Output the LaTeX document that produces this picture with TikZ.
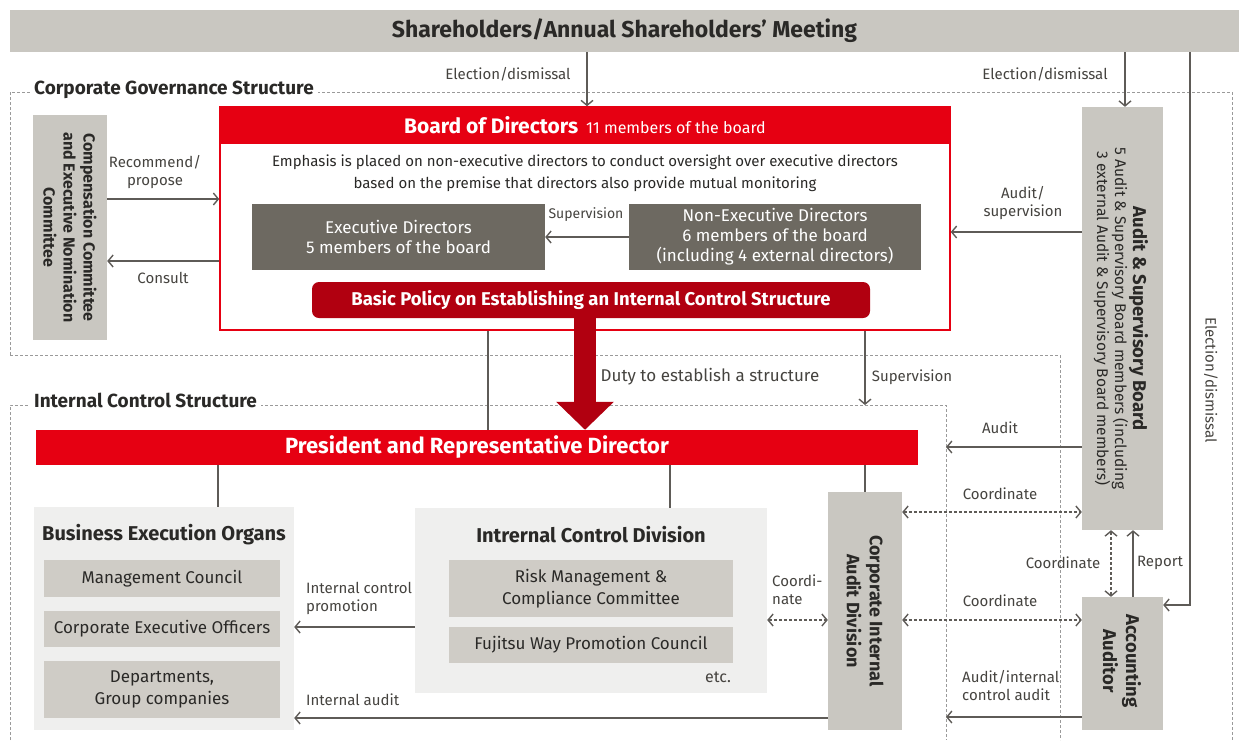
\documentclass[tikz,border=0pt]{standalone}
\usepackage{fontspec}
\setmainfont{Fira Sans}
\usetikzlibrary{arrows.meta,calc}
\definecolor{fjred}{HTML}{E60012}
\definecolor{fjdred}{HTML}{B10010}
\definecolor{barc}{HTML}{C9C7C1}
\definecolor{dgray}{HTML}{6D6961}
\definecolor{lgray}{HTML}{EFEFEE}
\definecolor{mgray}{HTML}{CFCCC6}
\definecolor{lnc}{HTML}{5E5B57}
\definecolor{txt}{HTML}{45433F}
\definecolor{ttl}{HTML}{2A2927}
\definecolor{dsh}{HTML}{9A9A9A}
\begin{document}
\begin{tikzpicture}[x=1pt,y=-1pt,
  lbl/.style={font=\fontsize{15}{18}\selectfont, text=txt, inner sep=0pt, align=center},
  slbl/.style={font=\fontsize{14}{17}\selectfont, text=txt, inner sep=0pt, align=center},
  arr/.style={draw=lnc, line width=1.6pt, -{Straight Barb[length=5pt,width=12pt,line width=1.4pt]}},
  darr/.style={draw=lnc, line width=1.4pt, dash pattern=on 3pt off 2pt,
     {Straight Barb[length=5pt,width=12pt,line width=1.4pt]}-{Straight Barb[length=5pt,width=12pt,line width=1.4pt]}},
  ln/.style={draw=lnc, line width=1.6pt},
  region/.style={draw=dsh, line width=0.8pt, dash pattern=on 3pt off 2pt},
  rtitle/.style={fill=white, inner xsep=4pt, inner ysep=2pt, font=\fontsize{19}{22}\selectfont\bfseries, text=ttl},
  gbox/.style={fill=barc, inner sep=0pt},
  dbox/.style={fill=dgray, inner sep=0pt, text=white, align=center, font=\fontsize{17}{20}\selectfont},
  lbox/.style={fill=lgray, inner sep=0pt},
  mbox/.style={fill=mgray, inner sep=0pt, text=ttl, align=center, font=\fontsize{17}{22}\selectfont, minimum width=236},
  btitle/.style={font=\fontsize{20}{24}\selectfont\bfseries, text=ttl, inner sep=0pt},
  vtext/.style={rotate=-90, align=center, text=ttl, inner sep=0pt}
]
\useasboundingbox (0,0) rectangle (1239,740);

% dashed regions
\draw[region] (10,355) -- (10,92) -- (1232,92) -- (1232,740);
\draw[region] (10,355) -- (1060,355) -- (1060,740);
\draw[region] (10,740) -- (10,405) -- (946,405) -- (946,740);
\node[rtitle, anchor=west] (cgs) at (30,90) {Corporate Governance Structure};
\node[rtitle, anchor=west] (ics) at (30,400) {Internal Control Structure};
\coordinate (icsup) at (865,405);
\coordinate (icaud) at (946,447);
\coordinate (icacc) at (946,717);

% top bar
\node[gbox, minimum width=1229, minimum height=42, font=\fontsize{23}{27}\selectfont\bfseries, text=ttl] (top) at (624.5,31) {Shareholders/Annual Shareholders’ Meeting};

% committee
\node[gbox, minimum width=74, minimum height=225] (comp) at (70,227.5) {};
\node[vtext, font=\fontsize{16}{20}\selectfont\bfseries] at (comp.center) {Compensation Committee\\and Executive Nomination\\Committee};

% board
\node[draw=fjred, line width=1.5pt, minimum width=730, minimum height=223, inner sep=0pt] (board) at (585,218.5) {};
\node[fill=fjred, minimum width=730, minimum height=38, inner sep=0pt, anchor=north, text=white] (boardhead) at (board.north)
  {{\fontsize{21}{24}\selectfont\bfseries Board of Directors}\hspace{8pt}{\fontsize{16}{19}\selectfont 11 members of the board}};
\node[lbl, font=\fontsize{15}{22}\selectfont, text=ttl] (emph) at (585,173) {Emphasis is placed on non-executive directors to conduct oversight over executive directors\\based on the premise that directors also provide mutual monitoring};
\node[dbox, minimum width=293, minimum height=66] (exec) at (398.5,237) {Executive Directors\\5 members of the board};
\node[dbox, minimum width=292, minimum height=66] (nonexec) at (775,237) {Non-Executive Directors\\6 members of the board\\(including 4 external directors)};
\node[fill=fjdred, rounded corners=7pt, minimum width=558, minimum height=36, inner sep=0pt, text=white, font=\fontsize{18.5}{22}\selectfont\bfseries] (policy) at (591,300) {Basic Policy on Establishing an Internal Control Structure};

% audit & supervisory board
\node[gbox, minimum width=81, minimum height=423] (audit) at (1122.5,318.5) {};
\node[vtext, font=\fontsize{15.5}{18}\selectfont] at (1121,318.5) {{\fontsize{18.5}{22}\selectfont\bfseries Audit \& Supervisory Board}\\5 Audit \& Supervisory Board members (including\\3 external Audit \& Supervisory Board members)};

% president
\node[fill=fjred, minimum width=882, minimum height=35, inner sep=0pt, text=white, font=\fontsize{22}{26}\selectfont\bfseries] (pres) at (477,447.5) {President and Representative Director};

% business execution organs
\node[lbox, minimum width=260, minimum height=223] (beo) at (164,618.5) {};
\node[btitle] (beot) at (164,535) {Business Execution Organs};
\node[mbox, minimum height=37] (mc) at (162,578.5) {Management Council};
\node[mbox, minimum height=36] (ceo) at (162,629) {Corporate Executive Officers};
\node[mbox, minimum height=57] (dept) at (162,689.5) {Departments,\\Group companies};

% internal control division
\node[lbox, minimum width=352, minimum height=185] (icd) at (591,600.5) {};
\node[btitle] (icdt) at (591,535) {Intrernal Control Division};
\node[mbox, minimum width=284, minimum height=57] (risk) at (591,588.5) {Risk Management \&\\Compliance Committee};
\node[mbox, minimum width=284, minimum height=36] (fuji) at (591,645) {Fujitsu Way Promotion Council};
\node[lbl, font=\fontsize{16}{19}\selectfont] (etc) at (718,677) {etc.};

% corporate internal audit division
\node[gbox, minimum width=74, minimum height=238] (ciad) at (865,611) {};
\node[vtext, font=\fontsize{18}{23}\selectfont\bfseries] at (ciad.center) {Corporate Internal\\Audit Division};

% accounting auditor
\node[gbox, minimum width=81, minimum height=133] (acc) at (1122.5,663.5) {};
\node[vtext, font=\fontsize{18.5}{23}\selectfont\bfseries] at (1122,661) {Accounting\\Auditor};

% connectors
\draw[arr] (top.south -| 587,0) -- (board.north -| 587,0);
\node[lbl] at (508,74) {Election/dismissal};
\draw[arr] (top.south -| 1125,0) -- (audit.north -| 1125,0);
\node[lbl] at (1045,74) {Election/dismissal};
\draw[arr] (top.south -| 1190,0) |- (acc.east |- 0,605);
\node[lbl, rotate=-90] at (1211,380) {Election/dismissal};

\draw[arr] (comp.east |- 0,199) -- (board.west |- 0,199);
\node[lbl] at (155,172) {Recommend/\\propose};
\draw[arr] (board.west |- 0,261) -- (comp.east |- 0,261);
\node[lbl] at (163,278) {Consult};

\draw[arr] (nonexec.west) -- (exec.east);
\node[slbl] at (586,215) {Supervision};

\draw[arr] (audit.west |- 0,232) -- (board.east |- 0,232);
\node[lbl] at (1023,203) {Audit/\\supervision};

\draw[fjdred, line width=22pt, -{Triangle[length=28pt,width=56pt]}] (policy.south -| 585,0) -- (pres.north -| 585,0);
\node[lbl, font=\fontsize{17}{20}\selectfont] at (710,377) {Duty to establish a structure};

\draw[ln] (board.south -| 488,0) -- (pres.north -| 488,0);
\draw[arr] (board.south -| 865,0) -- (icsup);
\node[lbl] at (912,377) {Supervision};

\draw[arr] (audit.west |- icaud) -- (icaud);
\node[lbl] at (1000,428) {Audit};

\draw[ln] (pres.south -| 218,0) -- (beo.north -| 218,0);
\draw[ln] (pres.south -| 670,0) -- (icd.north -| 670,0);
\draw[ln] (pres.south -| ciad.north) -- (ciad.north);

\draw[arr] (icd.west |- 0,627) -- (beo.east |- 0,627);
\node[lbl, anchor=west, align=left] at (306,598) {Internal control\\promotion};
\draw[arr] (ciad.west |- 0,718) -- (beo.east |- 0,718);
\node[lbl, anchor=west] at (306,700) {Internal audit};

\draw[darr] (icd.east |- 0,620) -- (ciad.west |- 0,620);
\node[lbl, anchor=west, align=left] at (772,590) {Coordi-\\nate};

\draw[darr] (ciad.east |- 0,512) -- (audit.west |- 0,512);
\node[lbl] at (1000,494) {Coordinate};
\draw[darr] (ciad.east |- 0,620) -- (acc.west |- 0,620);
\node[lbl] at (1000,601) {Coordinate};

\draw[darr] (audit.south -| 1111,0) -- (acc.north -| 1111,0);
\node[lbl] at (1063,563) {Coordinate};
\draw[arr] (acc.north -| 1133,0) -- (audit.south -| 1133,0);
\node[lbl] at (1160,563) {Report};

\draw[arr] (acc.west |- icacc) -- (icacc);
\node[lbl, anchor=west, align=left] at (962,686) {Audit/internal\\control audit};
\end{tikzpicture}
\end{document}
